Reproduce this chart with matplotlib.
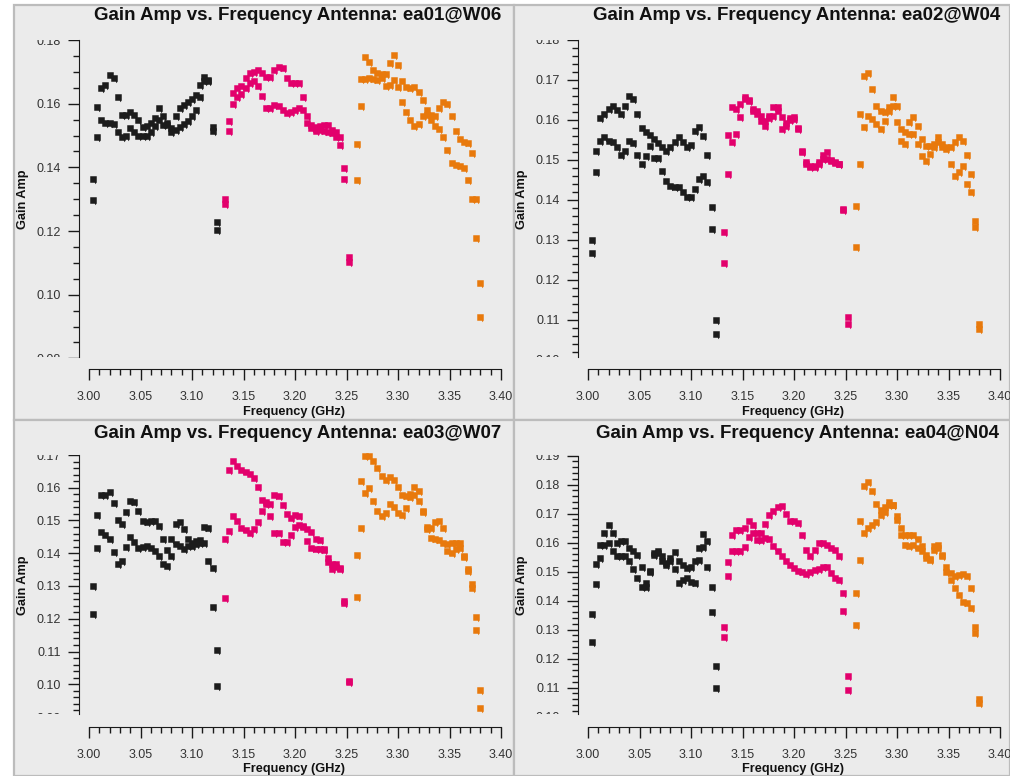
import numpy as np
import matplotlib
matplotlib.use("Agg")
import matplotlib.pyplot as plt
from matplotlib.path import Path
from matplotlib.patches import Rectangle
from matplotlib.transforms import Bbox, TransformedBbox
from matplotlib.ticker import MultipleLocator, FormatStrFormatter

W, H = 1010, 776
plt.rcParams['font.family'] = ['Liberation Sans', 'DejaVu Sans']

# Spectral windows: first channel centre (GHz), channel width, channels per window
spw_start_ghz = [3.004, 3.132, 3.260]
chan_width_ghz = 0.004
n_chan = 31
spw_colors = ['#1c1c1c', '#e2006c', '#e8790c']

antennas = ['ea01@W06', 'ea02@W04', 'ea03@W07', 'ea04@N04']

# ---- ea01@W06 : gain amplitude per channel, two correlations per window ----
ea01_spw0_a = [0.1365, 0.159, 0.165, 0.166, 0.169, 0.168, 0.162, 0.1564, 0.1564, 0.1575, 0.1564,
               0.155, 0.1528, 0.153, 0.1538, 0.1554, 0.1585, 0.156, 0.1538, 0.1523, 0.156, 0.1585,
               0.1596, 0.1606, 0.1614, 0.1627, 0.1659, 0.1683, 0.1674, 0.1528, 0.1229]
ea01_spw0_b = [0.1297, 0.1496, 0.1549, 0.154, 0.1538, 0.1536, 0.1512, 0.1494, 0.150, 0.1523, 0.1512,
               0.150, 0.150, 0.150, 0.151, 0.153, 0.155, 0.1533, 0.1533, 0.151, 0.1517, 0.1528,
               0.1536, 0.1547, 0.156, 0.158, 0.162, 0.167, 0.167, 0.1514, 0.1203]
ea01_spw1_a = [0.130, 0.1547, 0.1635, 0.1648, 0.1655, 0.168, 0.1695, 0.170, 0.1706, 0.1697, 0.1685,
               0.1683, 0.1706, 0.1716, 0.1711, 0.168, 0.1666, 0.1664, 0.1664, 0.162, 0.156, 0.1533,
               0.1528, 0.153, 0.1533, 0.1533, 0.1517, 0.151, 0.1494, 0.1397, 0.112]
ea01_spw1_b = [0.1285, 0.1514, 0.160, 0.1622, 0.163, 0.1648, 0.1664, 0.167, 0.1655, 0.1625, 0.1588,
               0.1585, 0.1596, 0.1593, 0.158, 0.1572, 0.1574, 0.158, 0.1588, 0.158, 0.154, 0.1523,
               0.1515, 0.1517, 0.1515, 0.151, 0.1507, 0.1496, 0.147, 0.1365, 0.1104]
ea01_spw2_a = [0.1473, 0.1676, 0.1746, 0.1732, 0.1706, 0.1697, 0.1693, 0.1693, 0.1729, 0.1753, 0.1721,
               0.167, 0.1651, 0.1648, 0.1653, 0.1638, 0.1612, 0.158, 0.1564, 0.156, 0.1588, 0.1606,
               0.1599, 0.1561, 0.1515, 0.1488, 0.1481, 0.1477, 0.1446, 0.1300, 0.1038]
ea01_spw2_b = [0.136, 0.1593, 0.1677, 0.168, 0.1677, 0.1674, 0.168, 0.1655, 0.1659, 0.1674, 0.1651,
               0.1606, 0.1575, 0.155, 0.153, 0.1536, 0.1561, 0.1564, 0.155, 0.153, 0.152, 0.1494,
               0.1454, 0.1415, 0.1407, 0.1404, 0.1397, 0.136, 0.1300, 0.1177, 0.0929]

# ---- ea02@W04 ----
ea02_spw0_a = [0.130, 0.1523, 0.1605, 0.1615, 0.1628, 0.1636, 0.1625, 0.1615, 0.1634, 0.1661, 0.1653,
               0.1615, 0.158, 0.1569, 0.1562, 0.1552, 0.1543, 0.1532, 0.1523, 0.1532, 0.1544, 0.1557,
               0.1544, 0.1532, 0.1538, 0.1572, 0.1582, 0.1561, 0.1513, 0.1382, 0.110]
ea02_spw0_b = [0.1268, 0.1469, 0.1547, 0.1557, 0.1548, 0.1544, 0.1532, 0.1513, 0.1523, 0.1547, 0.1542,
               0.1513, 0.149, 0.1511, 0.1535, 0.1505, 0.1505, 0.1473, 0.1448, 0.1436, 0.1433, 0.1433,
               0.1419, 0.1407, 0.1407, 0.1428, 0.1453, 0.1461, 0.1444, 0.1328, 0.1065]
ea02_spw1_a = [0.1319, 0.1563, 0.1632, 0.1628, 0.164, 0.1657, 0.165, 0.1628, 0.1623, 0.161, 0.1598,
               0.161, 0.1632, 0.1632, 0.1607, 0.1592, 0.1604, 0.1607, 0.158, 0.1523, 0.1494, 0.1486,
               0.1482, 0.149, 0.1513, 0.1519, 0.150, 0.1494, 0.149, 0.1378, 0.1107]
ea02_spw1_b = [0.1243, 0.1465, 0.1544, 0.1565, 0.1607, 0.1652, 0.1648, 0.1623, 0.1615, 0.1598, 0.1586,
               0.1605, 0.161, 0.1623, 0.1578, 0.1586, 0.160, 0.1602, 0.1578, 0.1521, 0.149, 0.1482,
               0.1484, 0.1494, 0.1503, 0.1503, 0.1498, 0.1492, 0.1489, 0.1376, 0.109]
ea02_spw2_a = [0.1384, 0.1615, 0.1711, 0.1717, 0.1678, 0.1636, 0.1623, 0.1619, 0.1623, 0.1657, 0.1636,
               0.1578, 0.1569, 0.1594, 0.1607, 0.1586, 0.1553, 0.1536, 0.1536, 0.1533, 0.1557, 0.154,
               0.1528, 0.1532, 0.1544, 0.1557, 0.1548, 0.1513, 0.1465, 0.1348, 0.109]
ea02_spw2_b = [0.1283, 0.149, 0.1582, 0.1611, 0.1603, 0.159, 0.1578, 0.1598, 0.1632, 0.1636, 0.1594,
               0.1548, 0.154, 0.1565, 0.1565, 0.154, 0.1511, 0.1498, 0.1515, 0.154, 0.1544, 0.1532,
               0.1532, 0.149, 0.1461, 0.1469, 0.1486, 0.144, 0.1419, 0.1332, 0.1078]

# ---- ea03@W07 ----
ea03_spw0_a = [0.130, 0.1516, 0.1577, 0.1579, 0.1587, 0.1554, 0.1503, 0.149, 0.1526, 0.1561, 0.1557,
               0.1528, 0.150, 0.1496, 0.150, 0.150, 0.1483, 0.1442, 0.1409, 0.1442, 0.149, 0.1496,
               0.1473, 0.1442, 0.1422, 0.1427, 0.1439, 0.148, 0.1476, 0.1356, 0.1106]
ea03_spw0_b = [0.1214, 0.1415, 0.1465, 0.1455, 0.1445, 0.1405, 0.1366, 0.1376, 0.1419, 0.1449, 0.1435,
               0.1417, 0.1419, 0.1422, 0.1417, 0.1407, 0.1391, 0.1366, 0.1361, 0.1391, 0.1427, 0.1422,
               0.1412, 0.1422, 0.1432, 0.1437, 0.1432, 0.1432, 0.1376, 0.1236, 0.0995]
ea03_spw1_a = [0.1445, 0.1655, 0.1681, 0.1665, 0.1655, 0.1648, 0.1642, 0.163, 0.1602, 0.1564, 0.1557,
               0.1551, 0.1579, 0.1574, 0.1547, 0.152, 0.1508, 0.1518, 0.1513, 0.1483, 0.1473, 0.1465,
               0.1442, 0.1439, 0.1412, 0.1386, 0.1366, 0.1366, 0.1356, 0.1254, 0.1011]
ea03_spw1_b = [0.1262, 0.1468, 0.1513, 0.1498, 0.1478, 0.147, 0.1462, 0.1473, 0.1496, 0.1528, 0.1549,
               0.1513, 0.1462, 0.1462, 0.1435, 0.1435, 0.1457, 0.148, 0.1486, 0.1480, 0.1437, 0.1415,
               0.1412, 0.1412, 0.1409, 0.1374, 0.1351, 0.1358, 0.1351, 0.1249, 0.1006]
ea03_spw2_a = [0.1396, 0.162, 0.1696, 0.1696, 0.1681, 0.166, 0.1635, 0.1625, 0.1632, 0.1625, 0.1602,
               0.1579, 0.1574, 0.1581, 0.1602, 0.1589, 0.1528, 0.148, 0.1478, 0.1496, 0.150, 0.1476,
               0.1427, 0.1432, 0.1432, 0.1432, 0.1391, 0.1351, 0.1305, 0.1206, 0.0982]
ea03_spw2_b = [0.1266, 0.1476, 0.1584, 0.1599, 0.1561, 0.1528, 0.1513, 0.1523, 0.1551, 0.1541, 0.1523,
               0.1518, 0.1539, 0.1571, 0.1579, 0.1561, 0.1526, 0.1473, 0.1447, 0.1442, 0.1439, 0.1432,
               0.1407, 0.1402, 0.1412, 0.1417, 0.1388, 0.1346, 0.1295, 0.1165, 0.0929]

# ---- ea04@N04 ----
ea04_spw0_a = [0.1354, 0.1527, 0.159, 0.1633, 0.1659, 0.1633, 0.1598, 0.1604, 0.1606, 0.1581, 0.1569,
               0.1558, 0.1514, 0.146, 0.1502, 0.1563, 0.1569, 0.1552, 0.1529, 0.1548, 0.1567, 0.1535,
               0.1523, 0.1512, 0.1514, 0.1537, 0.1581, 0.1629, 0.1606, 0.1448, 0.1175]
ea04_spw0_b = [0.1258, 0.1456, 0.1546, 0.159, 0.1598, 0.1572, 0.1552, 0.1552, 0.1552, 0.1535, 0.1509,
               0.1477, 0.1448, 0.1448, 0.150, 0.1558, 0.1563, 0.1535, 0.1523, 0.1535, 0.1509, 0.146,
               0.1471, 0.1477, 0.1463, 0.146, 0.154, 0.1583, 0.1517, 0.1362, 0.1099]
ea04_spw1_a = [0.131, 0.1532, 0.1625, 0.1644, 0.1644, 0.165, 0.1673, 0.1661, 0.1633, 0.1633, 0.1664,
               0.1696, 0.171, 0.1721, 0.1725, 0.1698, 0.1675, 0.1673, 0.1667, 0.1625, 0.1575, 0.1552,
               0.1575, 0.1598, 0.1598, 0.1592, 0.1581, 0.1575, 0.1552, 0.1425, 0.1139]
ea04_spw1_b = [0.1275, 0.1486, 0.1569, 0.1569, 0.1572, 0.1583, 0.1618, 0.1633, 0.161, 0.161, 0.1615,
               0.1613, 0.1587, 0.1569, 0.1552, 0.1535, 0.1521, 0.1512, 0.1502, 0.150, 0.1491, 0.150,
               0.1506, 0.1509, 0.1517, 0.1517, 0.1494, 0.1479, 0.1471, 0.1365, 0.1093]
ea04_spw2_a = [0.1425, 0.1673, 0.1794, 0.1809, 0.1779, 0.1733, 0.1713, 0.1721, 0.174, 0.1728, 0.169,
               0.165, 0.1627, 0.1625, 0.1627, 0.1613, 0.1587, 0.1558, 0.1544, 0.1587, 0.1592, 0.1558,
               0.1517, 0.1494, 0.1486, 0.1488, 0.1491, 0.1486, 0.1442, 0.131, 0.1062]
ea04_spw2_b = [0.1315, 0.154, 0.1633, 0.165, 0.1661, 0.1671, 0.1696, 0.1705, 0.1731, 0.1728, 0.1679,
               0.1627, 0.1592, 0.1587, 0.1592, 0.1581, 0.1569, 0.1546, 0.154, 0.1575, 0.1581, 0.1555,
               0.150, 0.1471, 0.1442, 0.1419, 0.1396, 0.139, 0.1373, 0.1287, 0.1048]

gains = [
    [(ea01_spw0_a, ea01_spw0_b), (ea01_spw1_a, ea01_spw1_b), (ea01_spw2_a, ea01_spw2_b)],
    [(ea02_spw0_a, ea02_spw0_b), (ea02_spw1_a, ea02_spw1_b), (ea02_spw2_a, ea02_spw2_b)],
    [(ea03_spw0_a, ea03_spw0_b), (ea03_spw1_a, ea03_spw1_b), (ea03_spw2_a, ea03_spw2_b)],
    [(ea04_spw0_a, ea04_spw0_b), (ea04_spw1_a, ea04_spw1_b), (ea04_spw2_a, ea04_spw2_b)],
]

# Page layout of each plot cell (pixels): cell box, y-axis line position,
# pixel rows of two reference y values, bottom of the y-axis line, x-axis row
cells = [
    dict(box=(13.5, 5, 514, 420), spine_x=79, top=(40, 0.18), low=(358.4, 0.08), ybot=357,
         xaxis=369, major=0.02, minor=0.005, title=(298, 16), ylab=(23, 199), xlab=(294, 412)),
    dict(box=(514, 5, 1010, 420), spine_x=578, top=(40, 0.18), low=(360, 0.10), ybot=357,
         xaxis=369, major=0.01, minor=0.002, title=(797, 16), ylab=(522, 199), xlab=(793, 412)),
    dict(box=(13.5, 420, 514, 776), spine_x=79, top=(455, 0.17), low=(717, 0.09), ybot=714,
         xaxis=727, major=0.01, minor=0.002, title=(298, 433), ylab=(23, 585), xlab=(294, 769)),
    dict(box=(514, 420, 1010, 776), spine_x=578, top=(455.5, 0.19), low=(716.5, 0.10), ybot=714,
         xaxis=727, major=0.01, minor=0.002, title=(797, 433), ylab=(522, 585), xlab=(793, 769)),
]

PX_PER_GHZ = 1030.0
X_LEFT_GAP = 10.0  # pixels between the y-axis line and 3.00 GHz

# square marker with a small tail at the lower right
marker_path = Path([(-1, 1), (1, 1), (1, -1), (0.9, -1), (0.65, -1.45), (0.4, -1),
                    (-1, -1), (-1, 1)],
                   [Path.MOVETO] + [Path.LINETO] * 6 + [Path.CLOSEPOLY])

fig = plt.figure(figsize=(W / 100, H / 100), dpi=100)
fig.patch.set_facecolor('white')


def fx(px):
    return px / W


def fy(py):
    return 1 - py / H


for cell, ant, ant_gains in zip(cells, antennas, gains):
    bx0, by0, bx1, by1 = cell['box']
    fig.patches.append(Rectangle((fx(bx0), fy(by1)), fx(bx1) - fx(bx0), fy(by0) - fy(by1),
                                 transform=fig.transFigure, facecolor='#ebebeb',
                                 edgecolor='#bcbcbc', linewidth=1.6, zorder=-5))

    top_px, top_val = cell['top']
    low_px, low_val = cell['low']
    left_px = cell['spine_x']
    right_px = left_px + X_LEFT_GAP + 0.4 * PX_PER_GHZ
    ax = fig.add_axes([fx(left_px), fy(low_px), (right_px - left_px) / W, (low_px - top_px) / H])
    ax.patch.set_alpha(0)
    ax.set_xlim(3.0 - X_LEFT_GAP / PX_PER_GHZ, 3.40)
    ax.set_ylim(low_val, top_val)

    for spw, (start, (pol_a, pol_b)) in enumerate(zip(spw_start_ghz, ant_gains)):
        freq = start + chan_width_ghz * np.arange(n_chan)
        for pol in (pol_a, pol_b):
            ax.plot(freq, pol, linestyle='none', marker=marker_path, markersize=6.8,
                    markeredgewidth=0, color=spw_colors[spw], clip_on=False, zorder=3)

    for side in ('top', 'right'):
        ax.spines[side].set_visible(False)
    ybot_val = low_val + (low_px - cell['ybot']) / (low_px - top_px) * (top_val - low_val)
    ax.spines['left'].set_bounds(ybot_val, top_val)
    ax.spines['left'].set_color('#1a1a1a')
    ax.spines['bottom'].set_position(('outward', (cell['xaxis'] - low_px) * 0.72))
    ax.spines['bottom'].set_bounds(3.0, 3.4)
    ax.spines['bottom'].set_color('#1a1a1a')

    ax.xaxis.set_major_locator(MultipleLocator(0.05))
    ax.xaxis.set_minor_locator(MultipleLocator(0.01))
    ax.yaxis.set_major_locator(MultipleLocator(cell['major']))
    ax.yaxis.set_minor_locator(MultipleLocator(cell['minor']))
    ax.xaxis.set_major_formatter(FormatStrFormatter('%.2f'))
    ax.yaxis.set_major_formatter(FormatStrFormatter('%.2f'))
    ax.tick_params(which='major', length=8, width=1.0, color='#1a1a1a', labelsize=9,
                   labelcolor='#333333', direction='out')
    ax.tick_params(which='minor', length=4.5, width=1.0, color='#1a1a1a', direction='out')
    ax.tick_params(axis='x', which='major', pad=7.5)
    ax.tick_params(axis='y', which='major', pad=5)

    cell_clip = TransformedBbox(Bbox.from_extents(fx(bx0), fy(by1), fx(bx1), fy(by0)),
                                fig.transFigure)
    yaxis_clip = TransformedBbox(Bbox.from_extents(fx(bx0), fy(cell['ybot']), fx(bx1),
                                                   fy(top_px - 0.5)), fig.transFigure)
    for lab in ax.get_xticklabels():
        lab.set_clip_box(cell_clip)
        lab.set_clip_on(True)
    for tick in ax.yaxis.get_major_ticks() + ax.yaxis.get_minor_ticks():
        for art in (tick.label1, tick.tick1line):
            art.set_clip_box(yaxis_clip)
            art.set_clip_on(True)

    fig.text(fx(cell['title'][0]), fy(cell['title'][1]),
             f'Gain Amp vs. Frequency Antenna: {ant}',
             ha='center', va='center', fontsize=13.5, fontweight='bold', color='#111111')
    fig.text(fx(cell['ylab'][0]), fy(cell['ylab'][1]), 'Gain Amp', rotation=90,
             ha='center', va='center', fontsize=9.2, fontweight='bold', color='#111111')
    fig.text(fx(cell['xlab'][0]), fy(cell['xlab'][1]), 'Frequency (GHz)',
             ha='center', va='center', fontsize=9.2, fontweight='bold', color='#111111')

fig.savefig('out.png', dpi=100, facecolor='white')
